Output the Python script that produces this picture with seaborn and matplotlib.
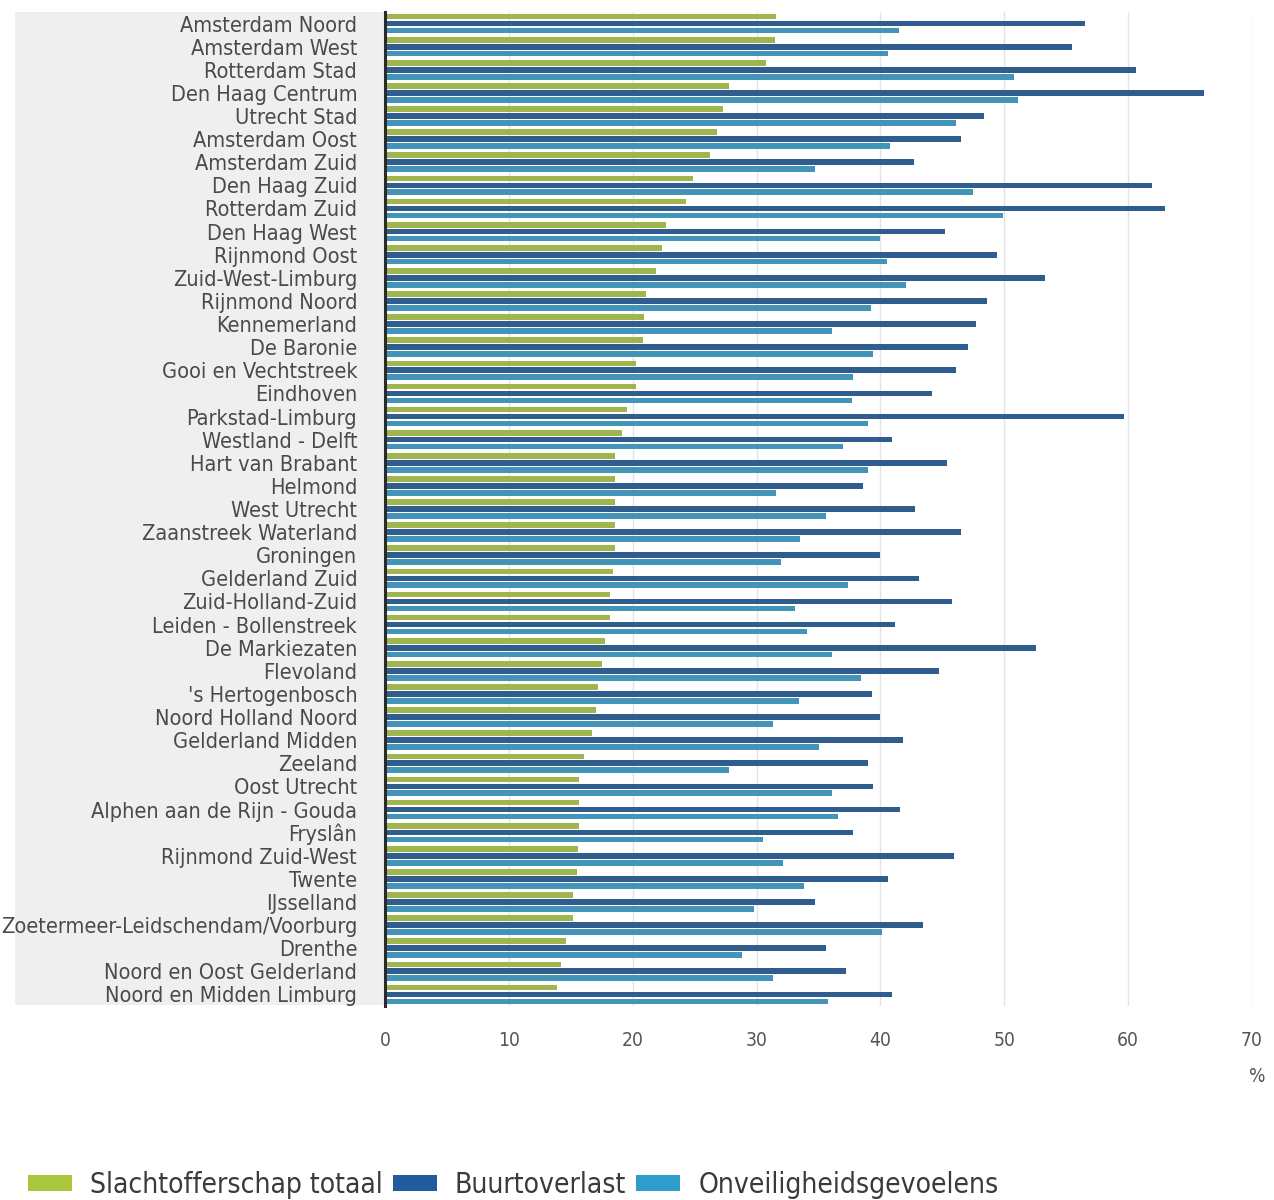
import matplotlib
matplotlib.use("Agg")
import matplotlib.pyplot as plt
from matplotlib import font_manager as fm
from matplotlib.patches import Rectangle, Patch
import seaborn as sns
import pandas as pd
import numpy as np

regions = [
    "Amsterdam Noord", "Amsterdam West", "Rotterdam Stad", "Den Haag Centrum",
    "Utrecht Stad", "Amsterdam Oost", "Amsterdam Zuid", "Den Haag Zuid",
    "Rotterdam Zuid", "Den Haag West", "Rijnmond Oost", "Zuid-West-Limburg",
    "Rijnmond Noord", "Kennemerland", "De Baronie", "Gooi en Vechtstreek",
    "Eindhoven", "Parkstad-Limburg", "Westland - Delft", "Hart van Brabant",
    "Helmond", "West Utrecht", "Zaanstreek Waterland", "Groningen",
    "Gelderland Zuid", "Zuid-Holland-Zuid", "Leiden - Bollenstreek",
    "De Markiezaten", "Flevoland", "'s Hertogenbosch", "Noord Holland Noord",
    "Gelderland Midden", "Zeeland", "Oost Utrecht", "Alphen aan de Rijn - Gouda",
    "Fryslân", "Rijnmond Zuid-West", "Twente", "IJsselland",
    "Zoetermeer-Leidschendam/Voorburg", "Drenthe", "Noord en Oost Gelderland",
    "Noord en Midden Limburg",
]

slachtofferschap = [31.6, 31.5, 30.8, 27.8, 27.3, 26.8, 26.2, 24.9, 24.3, 22.7,
                    22.4, 21.9, 21.1, 20.9, 20.8, 20.3, 20.3, 19.5, 19.1, 18.6,
                    18.6, 18.6, 18.6, 18.6, 18.4, 18.2, 18.2, 17.8, 17.5, 17.2,
                    17.0, 16.7, 16.1, 15.7, 15.7, 15.7, 15.6, 15.5, 15.2, 15.2,
                    14.6, 14.2, 13.9]
buurtoverlast = [56.5, 55.5, 60.6, 66.1, 48.4, 46.5, 42.7, 61.9, 63.0, 45.2,
                 49.4, 53.3, 48.6, 47.7, 47.1, 46.1, 44.2, 59.7, 40.9, 45.4,
                 38.6, 42.8, 46.5, 40.0, 43.1, 45.8, 41.2, 52.6, 44.7, 39.3,
                 40.0, 41.8, 39.0, 39.4, 41.6, 37.8, 45.9, 40.6, 34.7, 43.4,
                 35.6, 37.2, 40.9]
onveiligheid = [41.5, 40.6, 50.8, 51.1, 46.1, 40.8, 34.7, 47.5, 49.9, 40.0,
                40.5, 42.1, 39.2, 36.1, 39.4, 37.8, 37.7, 39.0, 37.0, 39.0,
                31.6, 35.6, 33.5, 32.0, 37.4, 33.1, 34.1, 36.1, 38.4, 33.4,
                31.3, 35.0, 27.8, 36.1, 36.6, 30.5, 32.1, 33.8, 29.8, 40.1,
                28.8, 31.3, 35.8]

series_names = ["Slachtofferschap totaal", "Buurtoverlast", "Onveiligheidsgevoelens"]
series_colors = ["#a9c63c", "#1f5c9e", "#2f9dcb"]
x_ticks = [0, 10, 20, 30, 40, 50, 60, 70]

df = pd.DataFrame({
    "regio": regions * 3,
    "waarde": slachtofferschap + buurtoverlast + onveiligheid,
    "reeks": [series_names[0]] * len(regions) + [series_names[1]] * len(regions)
             + [series_names[2]] * len(regions),
})

sns.set_theme(style="white")

# choose a narrow font if available
names = {f.name for f in fm.fontManager.ttflist}
fam = "DejaVu Sans"
stretch = "normal"
if any(f.name == "DejaVu Sans" and f.stretch == "condensed" for f in fm.fontManager.ttflist):
    stretch = "condensed"
elif "Liberation Sans Narrow" in names:
    fam = "Liberation Sans Narrow"
plt.rcParams["font.family"] = [fam, "DejaVu Sans"]
plt.rcParams["font.stretch"] = stretch

W, H = 1274, 1200
fig = plt.figure(figsize=(W / 100, H / 100), dpi=100)
renderer = fig.canvas.get_renderer()


def fit_size(text, target_px):
    t = fig.text(0, 0, text, fontsize=10)
    w = t.get_window_extent(renderer).width
    t.remove()
    return 10 * target_px / w


ylab_size = fit_size("Alphen aan de Rijn - Gouda", 267)
leg_size = fit_size("Slachtofferschap totaal", 295)
xt_size = fit_size("10", 22)

left, right = 385 / W, 1252 / W
top, bottom = 1 - 12 / H, 1 - 1006 / H
ax = fig.add_axes([left, bottom, right - left, top - bottom])

# grey label background
fig.add_artist(Rectangle((15 / W, 1 - 1005 / H), (385 - 15) / W, (1005 - 12) / H,
                         transform=fig.transFigure, facecolor="#efefef",
                         edgecolor="none", zorder=-10))

sns.barplot(data=df, y="regio", x="waarde", hue="reeks", hue_order=series_names,
            palette=series_colors, orient="h", width=0.9, gap=0.18,
            linewidth=0, ax=ax, legend=False, errorbar=None)

ax.set_xlim(0, 70)
ax.set_ylim(len(regions) - 0.5, -0.5)
ax.set_xticks(x_ticks)
ax.set_xticklabels([str(v) for v in x_ticks])
ax.set_xlabel("")
ax.set_ylabel("")
ax.xaxis.grid(True, color="#e4e4e4", linewidth=1)
ax.set_axisbelow(True)
for s in ["top", "right", "bottom"]:
    ax.spines[s].set_visible(False)
ax.spines["left"].set_color("#2b2b2b")
ax.spines["left"].set_linewidth(2.2)
ax.set_facecolor("white")

ax.tick_params(axis="y", length=0, pad=20, labelsize=ylab_size, labelcolor="#4a4a4a")
ax.tick_params(axis="x", length=0, pad=18, labelsize=xt_size, labelcolor="#555555")
ax.set_yticks(np.arange(-0.5, len(regions), 1.0), minor=True)
ax.tick_params(axis="y", which="minor", length=9, width=1, color="#cccccc")

fig.text(1257 / W, 1 - 1077 / H, "%", ha="center", va="center",
         fontsize=xt_size, color="#555555")

handles = [Patch(facecolor=c, edgecolor="none") for c in series_colors]
px = leg_size * 100 / 72
fig.legend(handles, series_names, loc="center left",
           bbox_to_anchor=(28 / W, 1 - 1185 / H), ncol=3, frameon=False,
           fontsize=leg_size, labelcolor="#3a3a3a",
           handlelength=44 / px, handleheight=15 / px, handletextpad=18 / px,
           columnspacing=10 / px, borderpad=0, borderaxespad=0)

fig.savefig("out.png", dpi=100, facecolor="white")
